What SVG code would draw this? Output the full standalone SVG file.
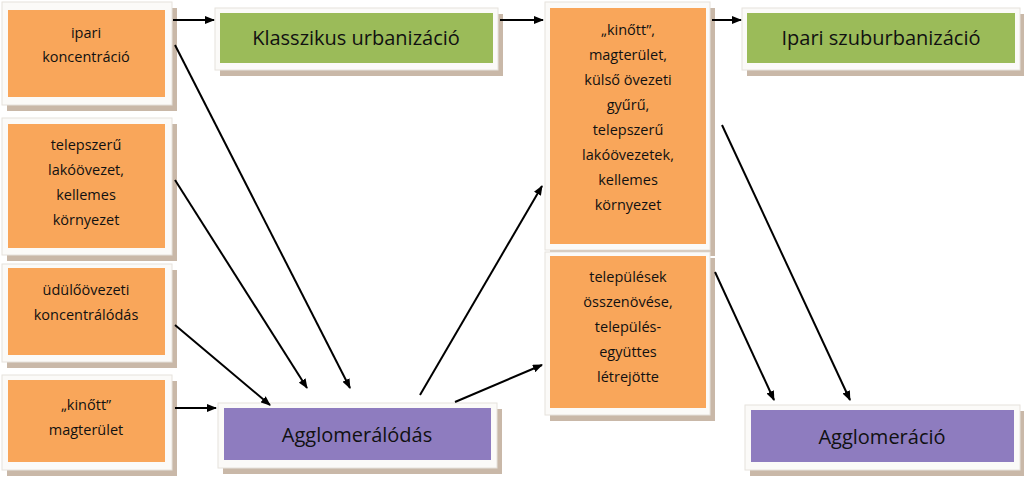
<svg xmlns="http://www.w3.org/2000/svg" width="1024" height="482" viewBox="0 0 1024 482">
<defs>
<marker id="ah" markerWidth="10" markerHeight="8" refX="9" refY="4" orient="auto" markerUnits="userSpaceOnUse"><path d="M0,0 L10,4 L0,8 z" fill="#000"/></marker>
<style>
.sh{fill:#c9b8a8}
.fr{fill:#fbfaf8;stroke:#e6e2dc;stroke-width:1}
.or{fill:#f9a65a}
.gr{fill:#9bbb59}
.pu{fill:#8e7cbf}
.t{font-family:"Open Sans","Liberation Sans",sans-serif;font-size:14.5px;fill:#111;text-anchor:middle}
.b{font-family:"Open Sans","Liberation Sans",sans-serif;font-size:20px;fill:#111;text-anchor:middle}
.c line{stroke:#000;stroke-width:2;marker-end:url(#ah)}
</style>
</defs>
<rect width="1024" height="482" fill="#fff"/>
<g id="n1"><rect class="sh" x="7" y="8" width="170" height="103"/><rect class="fr" x="2" y="2" width="170" height="103"/><rect class="or" x="8" y="10" width="157" height="87"/><text class="t" x="86" y="38">ipari</text><text class="t" x="86" y="62">koncentráció</text></g>
<g id="n2"><rect class="sh" x="7" y="124" width="170" height="137"/><rect class="fr" x="2" y="118" width="170" height="137"/><rect class="or" x="8" y="124" width="157" height="124"/><text class="t" x="86" y="150">telepszerű</text><text class="t" x="86" y="175">lakóövezet,</text><text class="t" x="86" y="200">kellemes</text><text class="t" x="86" y="225">környezet</text></g>
<g id="n3"><rect class="sh" x="7" y="270" width="170" height="98"/><rect class="fr" x="2" y="264" width="170" height="98"/><rect class="or" x="8" y="268" width="157" height="87"/><text class="t" x="86" y="295">üdülőövezeti</text><text class="t" x="86" y="320">koncentrálódás</text></g>
<g id="n4"><rect class="sh" x="7" y="381" width="170" height="95"/><rect class="fr" x="2" y="375" width="170" height="95"/><rect class="or" x="8" y="380" width="157" height="82"/><text class="t" x="86" y="410">„kinőtt”</text><text class="t" x="86" y="435">magterület</text></g>
<g id="n5"><rect class="sh" x="220" y="14" width="283" height="62"/><rect class="fr" x="215" y="8" width="283" height="62"/><rect class="gr" x="220" y="13" width="273" height="50"/><text class="b" x="356" y="45">Klasszikus urbanizáció</text></g>
<g id="n6"><rect class="sh" x="747" y="14" width="278" height="62"/><rect class="fr" x="742" y="8" width="278" height="62"/><rect class="gr" x="747" y="13" width="268" height="50"/><text class="b" x="881" y="45">Ipari szuburbanizáció</text></g>
<g id="n7"><rect class="sh" x="550" y="8" width="165" height="248"/><rect class="fr" x="545" y="2" width="165" height="248"/><rect class="or" x="550" y="8" width="156" height="236"/><text class="t" x="628" y="35">„kinőtt”,</text><text class="t" x="628" y="60">magterület,</text><text class="t" x="628" y="85">külső övezeti</text><text class="t" x="628" y="110">gyűrű,</text><text class="t" x="628" y="135">telepszerű</text><text class="t" x="628" y="160">lakóövezetek,</text><text class="t" x="628" y="185">kellemes</text><text class="t" x="628" y="210">környezet</text></g>
<g id="n8"><rect class="sh" x="550" y="258" width="165" height="163"/><rect class="fr" x="545" y="252" width="165" height="163"/><rect class="or" x="550" y="256" width="156" height="152"/><text class="t" x="628" y="282">települések</text><text class="t" x="628" y="307">összenövése,</text><text class="t" x="628" y="332">település-</text><text class="t" x="628" y="357">együttes</text><text class="t" x="628" y="382">létrejötte</text></g>
<g id="n9"><rect class="sh" x="223" y="409" width="279" height="65"/><rect class="fr" x="218" y="403" width="279" height="65"/><rect class="pu" x="224" y="408" width="267" height="52"/><text class="b" x="357" y="442">Agglomerálódás</text></g>
<g id="n10"><rect class="sh" x="750" y="411" width="275" height="65"/><rect class="fr" x="745" y="405" width="275" height="65"/><rect class="pu" x="751" y="410" width="263" height="52"/><text class="b" x="882" y="444">Agglomeráció</text></g>
<g class="c" id="connectors">
<line x1="173" y1="20" x2="214" y2="20"/>
<line x1="500" y1="20" x2="543" y2="20"/>
<line x1="712" y1="20" x2="741" y2="20"/>
<line x1="175" y1="45" x2="350" y2="388"/>
<line x1="175" y1="180" x2="307" y2="388"/>
<line x1="175" y1="325" x2="270" y2="405"/>
<line x1="175" y1="408" x2="216" y2="408"/>
<line x1="420" y1="395" x2="542" y2="186"/>
<line x1="455" y1="402" x2="542" y2="365"/>
<line x1="722" y1="125" x2="850" y2="400"/>
<line x1="715" y1="272" x2="774" y2="400"/>
</g>
</svg>
